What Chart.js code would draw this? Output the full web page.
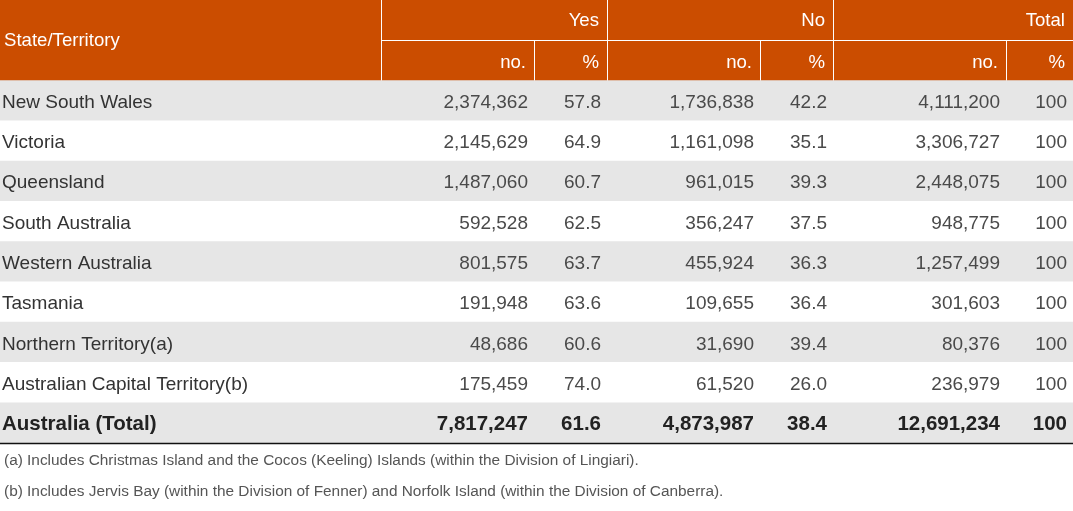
<!DOCTYPE html>
<html>
<head>
<meta charset="utf-8">
<script src="https://cdn.jsdelivr.net/npm/chart.js@4"></script>
<style>
  html, body { margin: 0; padding: 0; background: #fff; }
  #box { width: 1073px; height: 511px; position: relative; }
</style>
</head>
<body>
<div id="box"><canvas id="tabela"></canvas></div>
<script>
// dados da tabela
const states = ['New South Wales', 'Victoria', 'Queensland', 'South Australia', 'Western Australia',
  'Tasmania', 'Northern Territory(a)', 'Australian Capital Territory(b)', 'Australia (Total)'];
const yesNo = [2374362, 2145629, 1487060, 592528, 801575, 191948, 48686, 175459, 7817247];
const yesPct = [57.8, 64.9, 60.7, 62.5, 63.7, 63.6, 60.6, 74.0, 61.6];
const noNo = [1736838, 1161098, 961015, 356247, 455924, 109655, 31690, 61520, 4873987];
const noPct = [42.2, 35.1, 39.3, 37.5, 36.3, 36.4, 39.4, 26.0, 38.4];
const totalNo = [4111200, 3306727, 2448075, 948775, 1257499, 301603, 80376, 236979, 12691234];
const totalPct = [100, 100, 100, 100, 100, 100, 100, 100, 100];
const firstHeader = 'State/Territory';
const groupHeaders = ['Yes', 'No', 'Total'];
const subHeaders = ['no.', '%'];
const footnotes = [
  '(a) Includes Christmas Island and the Cocos (Keeling) Islands (within the Division of Lingiari).',
  '(b) Includes Jervis Bay (within the Division of Fenner) and Norfolk Island (within the Division of Canberra).'
];

// layout das colunas (unidades do eixo x)
const colEdges = [0, 381, 534, 607, 760, 833, 1006, 1073];
const FONT = '"Liberation Sans", Arial, Helvetica, sans-serif';
const ORANGE = '#cb4d00';
const STRIPE = '#e6e6e6';

const rowLabels = ['h1', 'h2', ...states];
const fmtNo = v => v.toLocaleString('en-US');
const fmtPct = v => (Number.isInteger(v) && v === 100) ? String(v) : v.toFixed(1);

const textoPlugin = {
  id: 'texto',
  afterDatasetsDraw(chart) {
    const { ctx, chartArea } = chart;
    const x = chart.scales.x, y = chart.scales.y;
    const px = v => x.getPixelForValue(v);
    const half = (y.getPixelForValue(1) - y.getPixelForValue(0)) / 2;
    const top = y.getPixelForValue(0) - half;
    const mid = y.getPixelForValue(0) + half;
    const hdrBottom = y.getPixelForValue(1) + half;

    ctx.save();
    // linhas brancas do cabeçalho
    ctx.strokeStyle = '#ffffff';
    ctx.lineWidth = 1;
    ctx.beginPath();
    [1, 3, 5].forEach(c => { ctx.moveTo(Math.round(px(colEdges[c])) + 0.5, top); ctx.lineTo(Math.round(px(colEdges[c])) + 0.5, hdrBottom); });
    [2, 4, 6].forEach(c => { ctx.moveTo(Math.round(px(colEdges[c])) + 0.5, mid); ctx.lineTo(Math.round(px(colEdges[c])) + 0.5, hdrBottom); });
    ctx.moveTo(px(colEdges[1]), Math.round(mid) + 0.5);
    ctx.lineTo(px(colEdges[7]), Math.round(mid) + 0.5);
    ctx.stroke();

    // textos do cabeçalho
    ctx.fillStyle = '#ffffff';
    ctx.font = '18.6px ' + FONT;
    ctx.textBaseline = 'middle';
    ctx.textAlign = 'left';
    ctx.fillText(firstHeader, px(colEdges[0]) + 4, mid + 1);
    ctx.textAlign = 'right';
    groupHeaders.forEach((g, i) => {
      ctx.fillText(g, px(colEdges[Math.min(3 + i * 2, 7)]) - 8, y.getPixelForValue(0) + 1);
    });
    for (let g = 0; g < 3; g++) {
      subHeaders.forEach((s, j) => {
        ctx.fillText(s, px(colEdges[2 + g * 2 + j]) - 8, y.getPixelForValue(1) + 2);
      });
    }

    // linhas de dados
    const cols = [yesNo, yesPct, noNo, noPct, totalNo, totalPct];
    states.forEach((name, i) => {
      const isTotal = i === states.length - 1;
      const cy = y.getPixelForValue(i + 2) + (isTotal ? 1 : 2);
      ctx.font = (isTotal ? 'bold 20.5px ' : '19px ') + FONT;
      ctx.fillStyle = isTotal ? '#222222' : '#333333';
      ctx.textAlign = 'left';
      ctx.fillText(name, px(colEdges[0]) + 2, cy);
      ctx.textAlign = 'right';
      if (!isTotal) ctx.fillStyle = '#4a4a4a';
      cols.forEach((arr, c) => {
        const v = arr[i];
        const txt = (c % 2 === 0) ? fmtNo(v) : fmtPct(v);
        ctx.fillText(txt, px(colEdges[c + 2]) - 6, cy);
      });
    });

    // linha inferior
    ctx.strokeStyle = '#111111';
    ctx.lineWidth = 1.5;
    ctx.beginPath();
    ctx.moveTo(chartArea.left, chartArea.bottom + 0.5);
    ctx.lineTo(chartArea.right, chartArea.bottom + 0.5);
    ctx.stroke();

    // notas
    ctx.fillStyle = '#555555';
    ctx.font = '15.4px ' + FONT;
    ctx.textAlign = 'left';
    footnotes.forEach((f, i) => {
      ctx.fillText(f, chartArea.left + 4, chartArea.bottom + 18 + i * 31);
    });
    ctx.restore();
  }
};

new Chart(document.getElementById('tabela'), {
  type: 'bar',
  data: {
    labels: rowLabels,
    datasets: [{
      data: rowLabels.map(() => [colEdges[0], colEdges[colEdges.length - 1]]),
      backgroundColor: rowLabels.map((_, i) => i < 2 ? ORANGE : (i % 2 === 0 ? STRIPE : '#ffffff')),
      borderWidth: 0,
      barPercentage: 1,
      categoryPercentage: 1,
    }],
  },
  options: {
    indexAxis: 'y',
    responsive: true,
    maintainAspectRatio: false,
    animation: false,
    layout: { padding: { left: 0, right: 0, top: 0, bottom: 68 } },
    plugins: { legend: { display: false }, tooltip: { enabled: false }, title: { display: false } },
    scales: {
      x: { type: 'linear', display: false, min: colEdges[0], max: colEdges[colEdges.length - 1] },
      y: { type: 'category', display: false },
    },
  },
  plugins: [textoPlugin],
});
</script>
</body>
</html>
